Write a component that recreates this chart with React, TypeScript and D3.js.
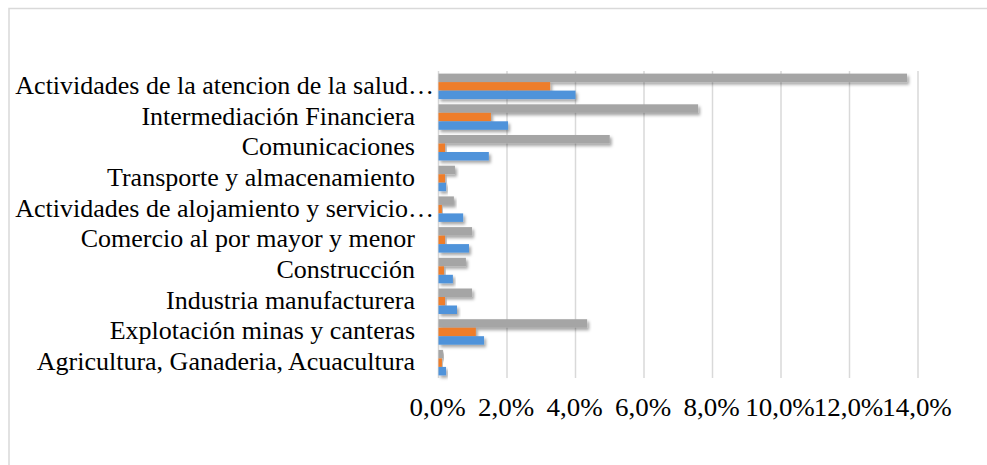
import React from "react";
import * as d3 from "d3";

// Categories, top to bottom as displayed
const categories: string[] = [
  "Actividades de la atencion de la salud…",
  "Intermediación Financiera",
  "Comunicaciones",
  "Transporte y almacenamiento",
  "Actividades de alojamiento y servicio…",
  "Comercio al por mayor y menor",
  "Construcción",
  "Industria manufacturera",
  "Explotación minas y canteras",
  "Agricultura, Ganaderia, Acuacultura",
];

// Series values in percent (same order as categories)
const serieGris: number[] = [13.68, 7.58, 5.0, 0.48, 0.45, 0.98, 0.8, 0.98, 4.34, 0.13];
const serieNaranja: number[] = [3.26, 1.53, 0.19, 0.19, 0.1, 0.19, 0.16, 0.19, 1.09, 0.1];
const serieAzul: number[] = [4.0, 2.03, 1.47, 0.22, 0.72, 0.89, 0.42, 0.54, 1.33, 0.22];

const tickValues: number[] = [0, 2, 4, 6, 8, 10, 12, 14];

const seriesNames = ["gris", "naranja", "azul"];
const seriesColors: Record<string, string> = {
  gris: "#a5a5a5",
  naranja: "#ee7d2b",
  azul: "#4f93da",
};

const W = 987;
const H = 465;
const FONT = "'Liberation Serif', 'Times New Roman', serif";

export default function App() {
  const x = d3.scaleLinear().domain([0, 14]).range([438.5, 918]);
  const y = d3
    .scaleBand<string>()
    .domain(categories)
    .range([71, 378])
    .paddingInner(0.17)
    .paddingOuter(0.085);
  const ySub = d3
    .scaleBand<string>()
    .domain(seriesNames)
    .range([0, y.bandwidth()])
    .padding(0);

  const values: Record<string, number[]> = {
    gris: serieGris,
    naranja: serieNaranja,
    azul: serieAzul,
  };
  const fmt = (v: number) => v.toFixed(1).replace(".", ",") + "%";

  const sxCat = 1.04;
  const sxTick = 1.08;

  return (
    <div style={{ position: "fixed", left: 0, top: 0, width: W, height: H, background: "#fff" }}>
      <svg width={W} height={H} style={{ display: "block" }}>
        <defs>
          <filter id="sh" x="-10%" y="-50%" width="130%" height="220%">
            <feDropShadow dx="2" dy="2.5" stdDeviation="1.4" floodColor="#000" floodOpacity="0.35" />
          </filter>
        </defs>
        <rect x={0} y={0} width={W} height={H} fill="#fff" />
        <rect x={9} y={8.5} width={W + 20} height={H + 20} fill="none" stroke="#d9d9d9" strokeWidth={1.5} />

        {/* gridlines */}
        {tickValues.map((t) => (
          <line
            key={"g" + t}
            x1={x(t)}
            x2={x(t)}
            y1={71}
            y2={378}
            stroke="#d9d9d9"
            strokeWidth={1.5}
          />
        ))}

        {/* bars */}
        {categories.map((c, i) => (
          <g key={c} transform={`translate(0,${y(c)})`}>
            {seriesNames.map((s) => (
              <rect
                key={s}
                x={x(0)}
                y={ySub(s)}
                width={Math.max(0, x(values[s][i]) - x(0))}
                height={ySub.bandwidth()}
                fill={seriesColors[s]}
                filter="url(#sh)"
              />
            ))}
          </g>
        ))}

        {/* category labels */}
        {categories.map((c) => {
          const cy = (y(c) as number) + y.bandwidth() / 2 + 7.5;
          const truncated = c.endsWith("…");
          const ax = truncated ? 434 : 415;
          return (
            <text
              key={"l" + c}
              transform={`translate(${ax},${cy}) scale(${sxCat},1)`}
              textAnchor="end"
              fontFamily={FONT}
              fontSize={25}
              fill="#000"
            >
              {c}
            </text>
          );
        })}

        {/* tick labels */}
        {tickValues.map((t) => (
          <text
            key={"t" + t}
            transform={`translate(${x(t) - 1},${416}) scale(${sxTick},1)`}
            textAnchor="middle"
            fontFamily={FONT}
            fontSize={25}
            fill="#000"
          >
            {fmt(t)}
          </text>
        ))}
      </svg>
    </div>
  );
}
